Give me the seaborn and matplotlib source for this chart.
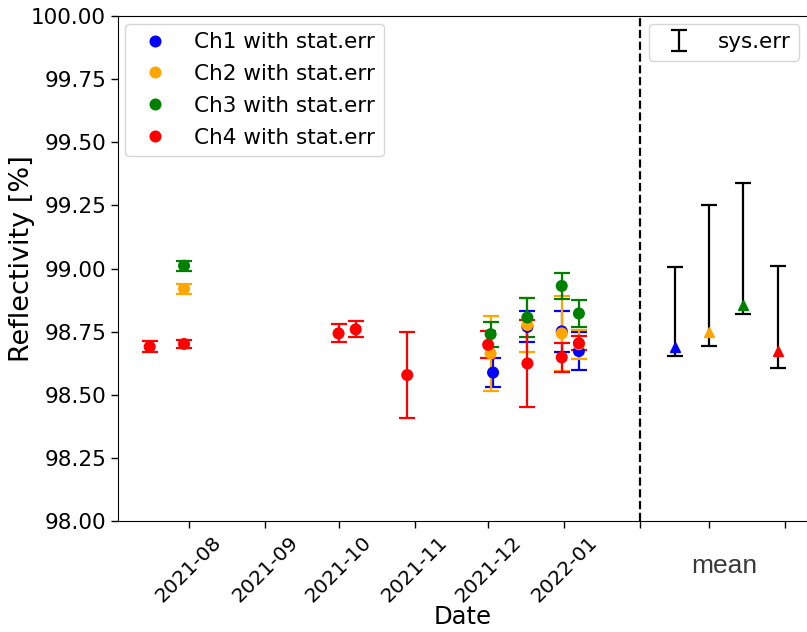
import matplotlib
matplotlib.use("Agg")
import matplotlib.pyplot as plt
from matplotlib.ticker import FormatStrFormatter, MultipleLocator
import pandas as pd
import seaborn as sns

# --- measurements per channel (reflectivity in %, statistical error) ---
ch1_dates = ["2021-12-03", "2021-12-17", "2021-12-31", "2022-01-07"]
ch1_vals = [98.588, 98.769, 98.751, 98.673]
ch1_errs = [0.056, 0.062, 0.080, 0.075]

ch2_dates = ["2021-07-30", "2021-12-02", "2021-12-17", "2021-12-31", "2022-01-07"]
ch2_vals = [98.919, 98.664, 98.776, 98.743, 98.700]
ch2_errs = [0.018, 0.149, 0.107, 0.149, 0.058]

ch3_dates = ["2021-07-30", "2021-12-02", "2021-12-17", "2021-12-31", "2022-01-07"]
ch3_vals = [99.011, 98.740, 98.806, 98.931, 98.822]
ch3_errs = [0.019, 0.050, 0.076, 0.050, 0.055]

ch4_dates = ["2021-07-16", "2021-07-30", "2021-10-01", "2021-10-08", "2021-10-29",
             "2021-12-01", "2021-12-17", "2021-12-31", "2022-01-07"]
ch4_vals = [98.690, 98.701, 98.743, 98.759, 98.578, 98.698, 98.624, 98.648, 98.704]
ch4_errs = [0.022, 0.016, 0.036, 0.032, 0.170, 0.054, 0.171, 0.056, 0.028]

# --- mean per channel with asymmetric systematic error ---
mean_dates = ["2022-02-15", "2022-03-01", "2022-03-15", "2022-03-29"]
mean_vals = [98.690, 98.750, 98.855, 98.675]
mean_err_up = [0.314, 0.500, 0.482, 0.336]
mean_err_down = [0.037, 0.056, 0.034, 0.068]

channel_labels = ["Ch1 with stat.err", "Ch2 with stat.err",
                  "Ch3 with stat.err", "Ch4 with stat.err"]
channel_colors = ["blue", "orange", "green", "red"]

tick_months = ["2021-08-01", "2021-09-01", "2021-10-01", "2021-11-01", "2021-12-01",
               "2022-01-01", "2022-02-01", "2022-03-01", "2022-04-01"]
tick_labels = ["2021-08", "2021-09", "2021-10", "2021-11", "2021-12", "2022-01", "", "", ""]

sns.set_style("ticks")
plt.rcParams.update({
    "font.family": ["DejaVu Sans"],
    "axes.edgecolor": "black",
    "axes.labelcolor": "black",
    "text.color": "black",
    "xtick.color": "black",
    "ytick.color": "black",
})

series = [
    (ch1_dates, ch1_vals, ch1_errs),
    (ch2_dates, ch2_vals, ch2_errs),
    (ch3_dates, ch3_vals, ch3_errs),
    (ch4_dates, ch4_vals, ch4_errs),
]
frames = []
for (d, v, e), lab in zip(series, channel_labels):
    frames.append(pd.DataFrame({"date": pd.to_datetime(d), "R": v, "err": e, "channel": lab}))
df = pd.concat(frames, ignore_index=True)

fig = plt.figure(figsize=(8.07, 6.32), dpi=100)
ax = fig.add_axes([0.146, 0.1756, 0.854, 0.7991])

# statistical error bars
for lab, col in zip(channel_labels, channel_colors):
    sub = df[df["channel"] == lab]
    ax.errorbar(sub["date"], sub["R"], yerr=sub["err"], fmt="none",
                ecolor=col, elinewidth=1.6, capsize=5.5, capthick=1.6, zorder=2)

sns.scatterplot(data=df, x="date", y="R", hue="channel", hue_order=channel_labels,
                palette=channel_colors, s=75, edgecolor="none", ax=ax, zorder=3)

# means with systematic errors
mean_x = pd.to_datetime(mean_dates)
sys_eb = ax.errorbar(mean_x, mean_vals, yerr=[mean_err_down, mean_err_up], fmt="none",
                     ecolor="black", elinewidth=1.6, capsize=5.5, capthick=1.6,
                     label="sys.err", zorder=2)
for x, y, col in zip(mean_x, mean_vals, channel_colors):
    ax.plot([x], [y], marker="^", color=col, markersize=7, linestyle="none", zorder=3)

ax.axvline(pd.Timestamp("2022-02-01"), color="black", linestyle="--", linewidth=1.6)

ax.set_xlim(pd.Timestamp("2021-07-03"), pd.Timestamp("2022-04-10"))
ax.set_ylim(98.0, 100.0)
ax.yaxis.set_major_locator(MultipleLocator(0.25))
ax.yaxis.set_major_formatter(FormatStrFormatter("%.2f"))
ax.set_xticks(pd.to_datetime(tick_months))
ax.set_xticklabels(tick_labels, rotation=45, ha="center", fontsize=14.5)
ax.tick_params(axis="y", labelsize=15.5)
ax.tick_params(axis="both", length=5, width=1)
ax.spines["right"].set_visible(False)

ax.set_xlabel("Date", fontsize=17.5)
ax.set_ylabel("Reflectivity [%]", fontsize=19.5)
ax.xaxis.set_label_coords(0.5, -0.166)
ax.yaxis.set_label_coords(-0.12, 0.52)

handles, labels = ax.get_legend_handles_labels()
ch_handles = [h for h, l in zip(handles, labels) if l in channel_labels]
ch_labels = [l for l in labels if l in channel_labels]
leg1 = ax.legend(ch_handles, ch_labels, loc="upper left", fontsize=15.5, frameon=True,
                 borderaxespad=0.35, labelspacing=0.55)
ax.add_artist(leg1)
ax.legend([sys_eb], ["sys.err"], loc="upper right", fontsize=15.5, frameon=True,
          borderaxespad=0.35)

fig.text(0.898, 0.105, "mean", fontsize=19, color="#3a3a3a",
         family=["Liberation Sans", "DejaVu Sans"], ha="center", va="center")

fig.savefig("out.png", dpi=100)
